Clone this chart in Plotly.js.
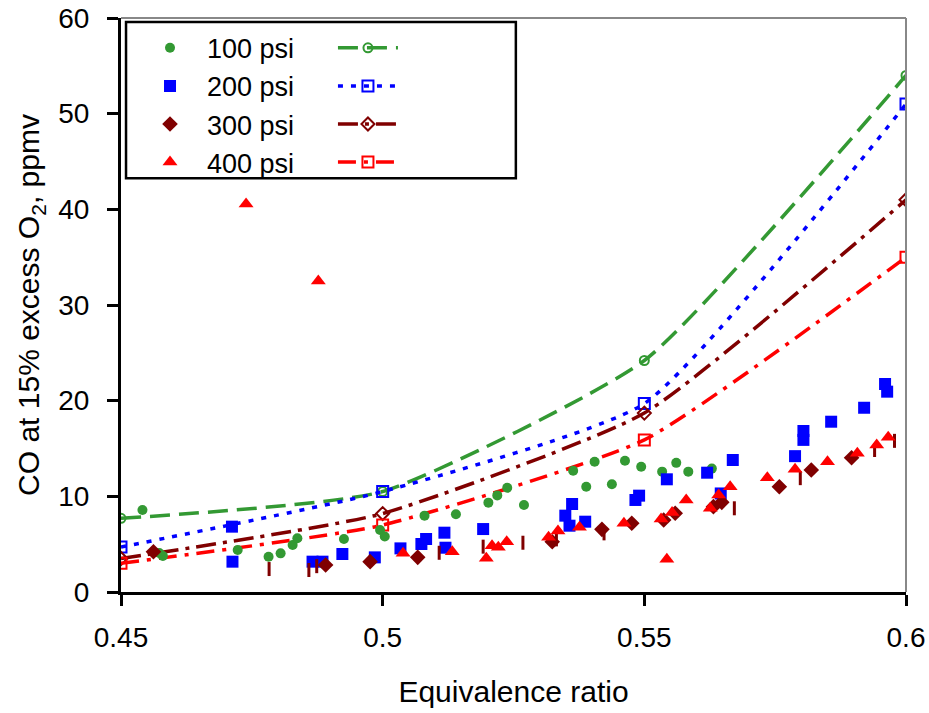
<!DOCTYPE html>
<html>
<head>
<meta charset="utf-8">
<script src="https://cdn.plot.ly/plotly-3.0.1.min.js"></script>
<style>html,body{margin:0;padding:0;background:#fff;}#chart{width:929px;height:713px;}</style>
</head>
<body>
<div id="chart"></div>
<script>
// ---- data ----
const seriesNames = ["100 psi", "200 psi", "300 psi", "400 psi"];
const xTicks = [0.45, 0.5, 0.55, 0.6];
const xTickText = ["0.45", "0.5", "0.55", "0.6"];
const yTicks = [0, 10, 20, 30, 40, 50, 60];

const x100 = [0.4541,0.4573,0.4580,0.4723,0.4782,0.4805,0.4828,0.4837,0.4926,0.4995,0.5004,0.5080,0.5140,0.5202,0.5219,0.5238,0.5270,0.5364,0.5389,0.5405,0.5438,0.5463,0.5494,0.5534,0.5561,0.5584,0.5629];
const y100 = [8.57,4.08,3.76,4.39,3.69,4.04,4.91,5.61,5.54,6.48,5.80,7.98,8.12,9.34,10.10,10.90,9.09,12.68,11.00,13.62,11.26,13.72,13.10,12.58,13.50,12.58,12.90];

const x200 = [0.4712,0.4713,0.4866,0.4885,0.4923,0.4985,0.5034,0.5074,0.5083,0.5118,0.5120,0.5192,0.5349,0.5357,0.5362,0.5387,0.5483,0.5490,0.5543,0.5620,0.5646,0.5669,0.5788,0.5804,0.5804,0.5857,0.5920,0.5960,0.5964];
const y200 = [6.83,3.17,3.17,3.17,3.97,3.62,4.56,5.02,5.54,6.20,4.63,6.58,7.98,6.93,9.20,7.35,9.62,10.07,11.78,12.47,10.30,13.80,14.20,15.90,16.83,17.80,19.26,21.74,20.94];

const x300 = [0.4562,0.4891,0.4976,0.5067,0.5324,0.5419,0.5476,0.5537,0.5559,0.5632,0.5648,0.5758,0.5819,0.5896];
const y300 = [4.20,2.82,3.17,3.62,5.26,6.55,7.18,7.53,8.23,8.92,9.37,11.00,12.75,14.04];
const x300b = [0.4783,0.4859,0.4874,0.5108,0.5192,0.5268,0.5332,0.5423,0.5672,0.5798,0.5940,0.5978];
const y300b = [2.40,2.30,2.70,4.10,4.74,5.15,5.50,6.13,8.75,11.90,14.84,15.80];

const x400 = [0.4739,0.4877,0.5039,0.5133,0.5198,0.5209,0.5221,0.5237,0.5317,0.5335,0.5376,0.5461,0.5532,0.5543,0.5553,0.5580,0.5626,0.5642,0.5664,0.5735,0.5788,0.5850,0.5907,0.5944,0.5966];
const y400 = [40.55,32.50,4.04,4.20,3.52,4.84,4.67,5.26,5.72,6.38,6.76,7.18,7.63,3.42,8.30,9.62,8.75,10.14,11.00,11.95,12.83,13.62,14.50,15.37,16.17];

const phiModel = [0.45, 0.5, 0.55, 0.6];
const m100 = [7.7, 10.5, 24.2, 54.0];
const m200 = [4.7, 10.5, 19.7, 51.0];
const m300 = [3.5, 8.2, 18.7, 41.0];
const m400 = [3.0, 7.0, 15.9, 35.0];

// ---- styles ----
const GREEN = "#339933", BLUE = "#0000ff", DRED = "#800000", RED = "#ff0000";
const FONT = "Liberation Sans, Arial, sans-serif";

function pts(x, y, name, color, symbol, size, grp) {
  return {x: x, y: y, name: name, type: "scatter", mode: "markers",
    marker: {color: color, symbol: symbol, size: size, line: {width: 0}},
    legend: "legend", legendgroup: grp, cliponaxis: false, hoverinfo: "x+y"};
}
function model(y, color, dash, width, symbol, msize, grp) {
  return {x: phiModel, y: y, name: " ", type: "scatter", mode: "lines+markers",
    line: {color: color, dash: dash, width: width, shape: "spline", smoothing: 0.5},
    marker: {symbol: symbol, size: msize, color: color, line: {color: color, width: 2}},
    legend: "legend2", legendgroup: grp, cliponaxis: true};
}

const traces = [
  model(m100, GREEN, "20px,9px", 3.5, "circle-open", 9, "m1"),
  model(m200, BLUE, "5px,8px", 3.5, "square-open", 11, "m2"),
  model(m300, DRED, "20px,7px,4px,7px", 3.5, "diamond-open", 10, "m3"),
  model(m400, RED, "18px,8px,4px,8px", 3.5, "square-open", 11, "m4"),
  pts(x100, y100, seriesNames[0], GREEN, "circle", 10, "d1"),
  pts(x200, y200, seriesNames[1], BLUE, "square", 12, "d2"),
  pts(x300, y300, seriesNames[2], DRED, "diamond", 12, "d3"),
  Object.assign(pts(x300b, y300b, "300 psi (b)", DRED, "line-ns", 10, "d3b"),
    {showlegend: false, marker: {color: DRED, symbol: "line-ns", size: 10, line: {color: DRED, width: 3}}}),
  pts(x400, y400, seriesNames[3], RED, "triangle-up", 13, "d4")
];

const tickFont = {family: FONT, size: 28, color: "#000"};
const titleFont = {family: FONT, size: 30, color: "#000"};

const layout = {
  width: 929, height: 713,
  margin: {l: 121, r: 23, t: 18, b: 121, pad: 0},
  paper_bgcolor: "#fff", plot_bgcolor: "#fff",
  font: {family: FONT, color: "#000"},
  xaxis: {
    range: [0.45, 0.6], tickvals: xTicks, ticktext: xTickText,
    ticks: "outside", ticklen: 11, tickwidth: 3, tickcolor: "#000",
    showline: true, linecolor: "#000", linewidth: 3, showgrid: false, zeroline: false,
    tickfont: tickFont, ticklabelstandoff: 7,
    title: {text: "Equivalence ratio", font: titleFont, standoff: 30}
  },
  yaxis: {
    range: [0, 60], tickvals: yTicks,
    ticks: "outside", ticklen: 11, tickwidth: 3, tickcolor: "#000",
    showline: true, linecolor: "#000", linewidth: 3, showgrid: false, zeroline: false,
    tickfont: tickFont, ticklabelstandoff: 12,
    title: {text: "CO at 15% excess O<sub>2</sub>, ppmv", font: titleFont, standoff: 10}
  },
  xaxis2: {overlaying: "x", anchor: "y", range: [0.45, 0.6], tickvals: xTicks,
    ticks: "inside", ticklen: 11, tickwidth: 3, tickcolor: "#000",
    showticklabels: false, showline: false, showgrid: false, zeroline: false},
  yaxis2: {overlaying: "y", anchor: "x", side: "left", range: [0, 60], tickvals: yTicks,
    ticks: "inside", ticklen: 11, tickwidth: 3, tickcolor: "#000",
    showticklabels: false, showline: false, showgrid: false, zeroline: false},
  shapes: [
    {type: "line", xref: "paper", yref: "paper", x0: 0, x1: 1, y0: 1, y1: 1, line: {color: "#888", width: 2}},
    {type: "line", xref: "paper", yref: "paper", x0: 1, x1: 1, y0: 0, y1: 1, line: {color: "#888", width: 2}},
    {type: "rect", xref: "paper", yref: "paper", x0: 0.0064, x1: 0.503, y0: 0.721, y1: 0.993,
     line: {color: "#000", width: 2.5}, fillcolor: "rgba(0,0,0,0)"}
  ],
  showlegend: true,
  legend: {x: 0.0153, y: 0.99, xanchor: "left", yanchor: "top", bgcolor: "rgba(0,0,0,0)", borderwidth: 0,
    font: {family: FONT, size: 27, color: "#000"}, traceorder: "normal", itemwidth: 64},
  legend2: {x: 0.27, y: 0.99, xanchor: "left", yanchor: "top", bgcolor: "rgba(0,0,0,0)", borderwidth: 0,
    font: {family: FONT, size: 27, color: "#000"}, traceorder: "normal", itemwidth: 60}
};

Plotly.newPlot("chart", traces, layout, {displayModeBar: false, staticPlot: true});
</script>
</body>
</html>
